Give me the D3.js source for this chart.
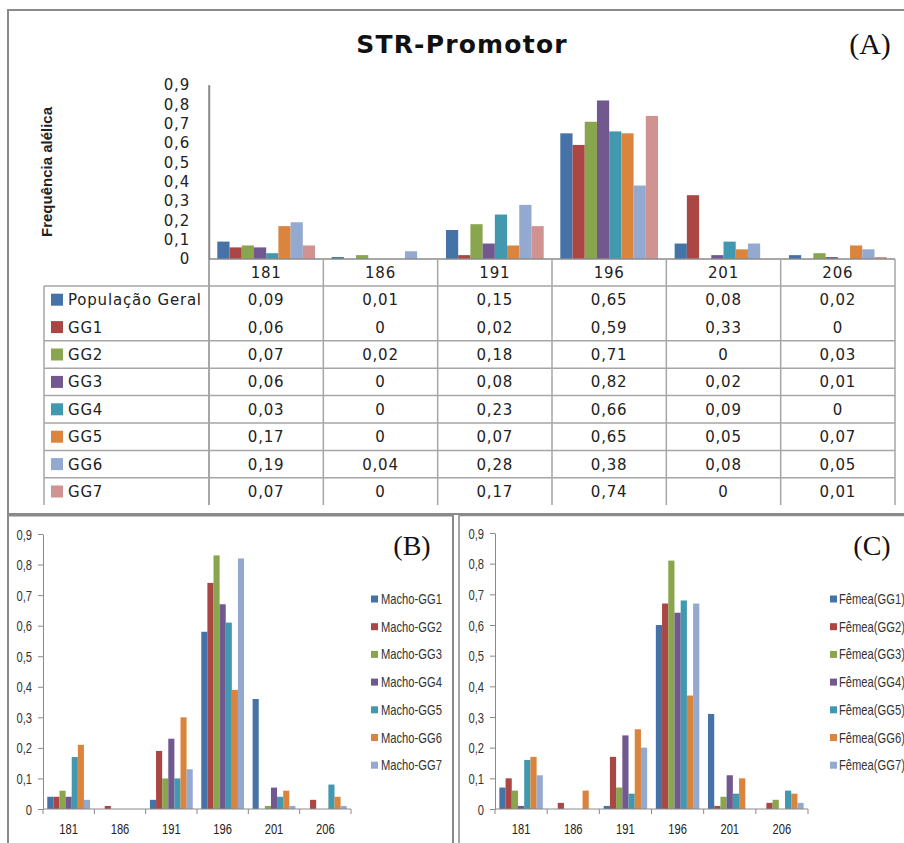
<!DOCTYPE html>
<html>
<head>
<meta charset="utf-8">
<script src="https://cdn.jsdelivr.net/npm/d3@7"></script>
<style>
  html, body { margin: 0; padding: 0; background: #fff; }
  svg { display: block; }
</style>
</head>
<body>
<svg id="fig" width="904" height="843"></svg>
<script>
// Alelos do STR-Promotor
const categories = ["181", "186", "191", "196", "201", "206"];

// (A) frequências alélicas por grupo genético
const seriesA = ["População Geral", "GG1", "GG2", "GG3", "GG4", "GG5", "GG6", "GG7"];
const popGeral = [0.09, 0.01, 0.15, 0.65, 0.08, 0.02];
const gg1 = [0.06, 0, 0.02, 0.59, 0.33, 0];
const gg2 = [0.07, 0.02, 0.18, 0.71, 0, 0.03];
const gg3 = [0.06, 0, 0.08, 0.82, 0.02, 0.01];
const gg4 = [0.03, 0, 0.23, 0.66, 0.09, 0];
const gg5 = [0.17, 0, 0.07, 0.65, 0.05, 0.07];
const gg6 = [0.19, 0.04, 0.28, 0.38, 0.08, 0.05];
const gg7 = [0.07, 0, 0.17, 0.74, 0, 0.01];
const valuesA = [popGeral, gg1, gg2, gg3, gg4, gg5, gg6, gg7];

// (B) machos
const seriesB = ["Macho-GG1", "Macho-GG2", "Macho-GG3", "Macho-GG4", "Macho-GG5", "Macho-GG6", "Macho-GG7"];
const machoGG1 = [0.04, 0, 0.03, 0.58, 0.36, 0];
const machoGG2 = [0.04, 0.01, 0.19, 0.74, 0, 0.03];
const machoGG3 = [0.06, 0, 0.10, 0.83, 0.01, 0];
const machoGG4 = [0.04, 0, 0.23, 0.67, 0.07, 0];
const machoGG5 = [0.17, 0, 0.10, 0.61, 0.04, 0.08];
const machoGG6 = [0.21, 0, 0.30, 0.39, 0.06, 0.04];
const machoGG7 = [0.03, 0, 0.13, 0.82, 0.01, 0.01];
const valuesB = [machoGG1, machoGG2, machoGG3, machoGG4, machoGG5, machoGG6, machoGG7];

// (C) fêmeas
const seriesC = ["Fêmea(GG1)", "Fêmea(GG2)", "Fêmea(GG3)", "Fêmea(GG4)", "Fêmea(GG5)", "Fêmea(GG6)", "Fêmea(GG7)"];
const femeaGG1 = [0.07, 0, 0.01, 0.60, 0.31, 0];
const femeaGG2 = [0.10, 0.02, 0.17, 0.67, 0.01, 0.02];
const femeaGG3 = [0.06, 0, 0.07, 0.81, 0.04, 0.03];
const femeaGG4 = [0.01, 0, 0.24, 0.64, 0.11, 0];
const femeaGG5 = [0.16, 0, 0.05, 0.68, 0.05, 0.06];
const femeaGG6 = [0.17, 0.06, 0.26, 0.37, 0.10, 0.05];
const femeaGG7 = [0.11, 0, 0.20, 0.67, 0, 0.02];
const valuesC = [femeaGG1, femeaGG2, femeaGG3, femeaGG4, femeaGG5, femeaGG6, femeaGG7];

const yTicks = [0, 0.1, 0.2, 0.3, 0.4, 0.5, 0.6, 0.7, 0.8, 0.9];

// paleta de cores das séries
const palette = ["#4572A7", "#AA4643", "#89A54E", "#71588F", "#4198AF", "#DB843D", "#93A9CF", "#D19392"];

const comma = (v, digits) => v === 0 ? "0" : d3.format("." + digits + "f")(v).replace(".", ",");

const svg = d3.select("#fig");
const frameColor = "#8a8a8a";
const tableFont = "DejaVu Sans, sans-serif";
const narrowFont = "Liberation Sans, Arial, sans-serif";
const narrow = 0.8; // compressão horizontal do texto dos painéis B e C

// texto comprimido horizontalmente
function narrowText(sel, x, y, str, anchor) {
  return sel.append("text")
    .attr("transform", `translate(${x},${y}) scale(${narrow},1)`)
    .attr("text-anchor", anchor || "start")
    .attr("font-family", narrowFont).attr("font-size", 14)
    .text(str);
}

// ---------- molduras ----------
svg.append("rect").attr("x", 8).attr("y", 10).attr("width", 1000).attr("height", 504)
  .attr("fill", "none").attr("stroke", frameColor).attr("stroke-width", 2);
svg.append("rect").attr("x", 8).attr("y", 515.5).attr("width", 445).attr("height", 400)
  .attr("fill", "none").attr("stroke", frameColor).attr("stroke-width", 2);
svg.append("rect").attr("x", 459).attr("y", 515.5).attr("width", 500).attr("height", 400)
  .attr("fill", "none").attr("stroke", frameColor).attr("stroke-width", 1.5);

// ---------- (A) gráfico com tabela de dados ----------
(function () {
  const left = 209, right = 895, top = 85, base = 259;
  const x0 = d3.scaleBand().domain(categories).range([left, right]);
  const x1 = d3.scaleBand().domain(seriesA).range([0, x0.bandwidth()]).paddingOuter(0.68);
  const y = d3.scaleLinear().domain([0, 0.9]).range([base, top]);
  const g = svg.append("g");

  g.append("text").attr("x", 462).attr("y", 53).attr("text-anchor", "middle")
    .attr("font-family", "DejaVu Sans, sans-serif").attr("font-weight", "bold")
    .attr("font-size", 25).attr("letter-spacing", 1.2).attr("fill", "#111").text("STR-Promotor");
  g.append("text").attr("x", 870).attr("y", 54).attr("text-anchor", "middle")
    .attr("font-family", "Liberation Serif, serif").attr("font-size", 30)
    .attr("fill", "#111").text("(A)");

  g.append("text").attr("transform", "translate(52,172) rotate(-90)")
    .attr("text-anchor", "middle").attr("font-family", "Liberation Sans, sans-serif")
    .attr("font-weight", "bold").attr("font-size", 15).attr("fill", "#222")
    .text("Frequência alélica");

  // eixo y sem marcas
  const yAxis = d3.axisLeft(y).tickValues(yTicks).tickSize(0).tickPadding(19)
    .tickFormat(d => comma(d, 1));
  const ya = g.append("g").attr("transform", `translate(${left},0)`).call(yAxis);
  ya.select(".domain").attr("stroke", "#8a8a8a").attr("stroke-width", 1.5);
  ya.selectAll("text").attr("font-family", tableFont)
    .attr("font-size", 15).attr("letter-spacing", 0.8).attr("fill", "#222");

  // barras
  valuesA.forEach((vals, si) => {
    g.append("g").attr("fill", palette[si]).selectAll("rect")
      .data(vals).join("rect")
      .attr("x", (d, i) => x0(categories[i]) + x1(seriesA[si]))
      .attr("y", d => y(d))
      .attr("width", x1.bandwidth())
      .attr("height", d => base - y(d));
  });

  // tabela de dados
  const rowTop = 286, rowH = 27.4, tableLeft = 44, tableBottom = 505;
  const lineColor = "#a6a6a6";
  const lines = g.append("g").attr("stroke", lineColor).attr("stroke-width", 1.5);
  lines.append("line").attr("x1", left).attr("x2", right).attr("y1", base).attr("y2", base)
    .attr("stroke", "#8a8a8a");
  // linhas verticais
  x0.domain().forEach(c => {
    lines.append("line").attr("x1", x0(c)).attr("x2", x0(c))
      .attr("y1", x0(c) === left ? top : base).attr("y2", tableBottom)
      .attr("stroke", x0(c) === left ? "#8a8a8a" : lineColor);
  });
  lines.append("line").attr("x1", right).attr("x2", right).attr("y1", base).attr("y2", tableBottom);
  lines.append("line").attr("x1", tableLeft).attr("x2", tableLeft).attr("y1", rowTop).attr("y2", tableBottom);
  // linhas horizontais das linhas da tabela
  seriesA.forEach((s, i) => {
    if (i === 1) return;
    const yy = rowTop + i * rowH;
    lines.append("line").attr("x1", tableLeft).attr("x2", right).attr("y1", yy).attr("y2", yy);
  });

  const textStyle = s => s.attr("font-family", tableFont).attr("font-size", 15)
    .attr("letter-spacing", 0.8).attr("fill", "#222");

  // cabeçalho dos alelos
  g.append("g").selectAll("text").data(categories).join("text")
    .attr("x", d => x0(d) + x0.bandwidth() / 2).attr("y", 278)
    .attr("text-anchor", "middle").call(textStyle).text(d => d);

  // legenda e valores
  seriesA.forEach((s, si) => {
    const cy = rowTop + si * rowH + rowH / 2;
    g.append("rect").attr("x", 51).attr("y", cy - 6).attr("width", 12).attr("height", 12)
      .attr("fill", palette[si]);
    g.append("text").attr("x", 68).attr("y", cy + 5.5).call(textStyle).text(s);
    g.append("g").selectAll("text").data(valuesA[si]).join("text")
      .attr("x", (d, i) => x0(categories[i]) + x0.bandwidth() / 2).attr("y", cy + 5.5)
      .attr("text-anchor", "middle").call(textStyle).text(d => comma(d, 2));
  });
})();

// ---------- (B) e (C) gráficos de barras agrupadas ----------
function groupedChart(opts) {
  const { left, right, top, base, series, values, label, labelX, legendSquareX, legendTextX } = opts;
  const x0 = d3.scaleBand().domain(categories).range([left, right]);
  const x1 = d3.scaleBand().domain(series).range([0, x0.bandwidth()]).paddingOuter(0.7);
  const y = d3.scaleLinear().domain([0, 0.9]).range([base, top]);
  const g = svg.append("g");

  const yAxis = d3.axisLeft(y).tickValues(yTicks).tickSize(5).tickPadding(6)
    .tickSizeOuter(0).tickFormat(d => comma(d, 1));
  const ya = g.append("g").attr("transform", `translate(${left},0)`).call(yAxis);
  ya.selectAll(".domain, line").attr("stroke", "#8a8a8a");
  ya.selectAll("text")
    .attr("x", 0).attr("dy", null)
    .attr("transform", `translate(-11,5) scale(${narrow},1)`)
    .attr("font-family", narrowFont).attr("font-size", 14).attr("fill", "#333");

  // barras
  values.forEach((vals, si) => {
    g.append("g").attr("fill", palette[si]).selectAll("rect")
      .data(vals).join("rect")
      .attr("x", (d, i) => x0(categories[i]) + x1(series[si]))
      .attr("y", d => y(d))
      .attr("width", x1.bandwidth())
      .attr("height", d => base - y(d));
  });

  // eixo x: marcas nos limites das categorias
  const xa = g.append("g").attr("transform", `translate(0,${base})`);
  xa.append("line").attr("x1", left).attr("x2", right).attr("stroke", "#8a8a8a");
  const bounds = categories.map(c => x0(c)).concat([right]);
  xa.selectAll("line.tick").data(bounds).join("line").attr("class", "tick")
    .attr("x1", d => d).attr("x2", d => d).attr("y1", 0).attr("y2", 5)
    .attr("stroke", "#8a8a8a");
  categories.forEach(c => {
    narrowText(xa, x0(c) + x0.bandwidth() / 2, 25, c, "middle").attr("fill", "#222");
  });

  // legenda
  series.forEach((s, si) => {
    const cy = 599 + si * 27.7;
    g.append("rect").attr("x", legendSquareX).attr("y", cy - 3.5).attr("width", 7).attr("height", 7)
      .attr("fill", palette[si]);
    narrowText(g, legendTextX, cy + 5, s).attr("fill", "#333");
  });

  g.append("text").attr("x", labelX).attr("y", 555).attr("text-anchor", "middle")
    .attr("font-family", "Liberation Serif, serif").attr("font-size", 28)
    .attr("fill", "#111").text(label);
}

groupedChart({
  left: 43, right: 351, top: 534, base: 809,
  series: seriesB, values: valuesB, label: "(B)", labelX: 412,
  legendSquareX: 371, legendTextX: 381
});

groupedChart({
  left: 495, right: 808, top: 533, base: 809,
  series: seriesC, values: valuesC, label: "(C)", labelX: 872,
  legendSquareX: 830, legendTextX: 839
});
</script>
</body>
</html>
